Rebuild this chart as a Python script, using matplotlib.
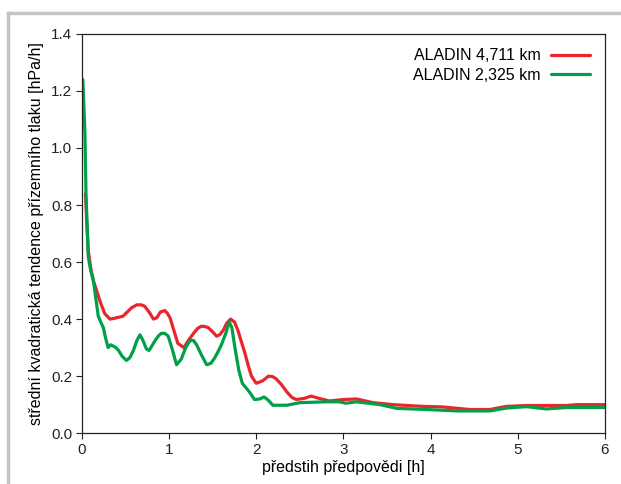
import numpy as np
import matplotlib.pyplot as plt
from matplotlib.lines import Line2D

plt.rcParams['font.family'] = ['Liberation Sans', 'DejaVu Sans']

# forecast lead time [h] and values [hPa/h]
t_red = [0.04, 0.055, 0.072, 0.10, 0.13, 0.168, 0.21, 0.26, 0.32, 0.36, 0.40, 0.47, 0.52, 0.57, 0.63,
         0.68, 0.72, 0.77, 0.82, 0.86, 0.90, 0.95, 0.98, 1.01, 1.05, 1.10, 1.17, 1.22, 1.28, 1.33,
         1.37, 1.41, 1.45, 1.50, 1.545, 1.58, 1.62, 1.66, 1.705, 1.75, 1.79, 1.83, 1.87, 1.91, 1.945,
         2.00, 2.07, 2.14, 2.19, 2.23, 2.29, 2.35, 2.41, 2.46, 2.55, 2.63, 2.72, 2.84, 3.0, 3.15, 3.34,
         3.57, 3.91, 4.14, 4.45, 4.68, 4.87, 5.1, 5.37, 5.56, 5.67, 6.0]
v_red = [0.84, 0.74, 0.64, 0.58, 0.535, 0.50, 0.46, 0.42, 0.40, 0.402, 0.405, 0.41, 0.425, 0.44, 0.45,
         0.45, 0.445, 0.425, 0.40, 0.405, 0.425, 0.43, 0.42, 0.405, 0.365, 0.315, 0.30, 0.325, 0.35, 0.368,
         0.375, 0.374, 0.37, 0.355, 0.34, 0.345, 0.36, 0.385, 0.40, 0.39, 0.36, 0.32, 0.28, 0.235, 0.20,
         0.175, 0.183, 0.20, 0.198, 0.19, 0.17, 0.145, 0.125, 0.118, 0.122, 0.13, 0.122, 0.113, 0.118, 0.12,
         0.107, 0.10, 0.094, 0.092, 0.083, 0.083, 0.094, 0.097, 0.097, 0.097, 0.10, 0.10]

t_green = [0.0, 0.01, 0.034, 0.046, 0.072, 0.10, 0.13, 0.16, 0.187, 0.215, 0.245, 0.27, 0.30, 0.33,
           0.36, 0.39, 0.42, 0.46, 0.51, 0.55, 0.59, 0.63, 0.665, 0.70, 0.74, 0.77, 0.80, 0.84, 0.88,
           0.91, 0.95, 0.99, 1.04, 1.085, 1.14, 1.19, 1.24, 1.28, 1.315, 1.37, 1.43, 1.48, 1.525,
           1.56, 1.60, 1.65, 1.69, 1.72, 1.755, 1.80, 1.84, 1.88, 1.92, 1.98, 2.04, 2.09, 2.14,
           2.19, 2.35, 2.50, 2.80, 2.95, 3.03, 3.15, 3.42, 3.61, 3.95, 4.30, 4.68, 4.87, 5.1, 5.33,
           5.56, 6.0]
v_green = [1.24, 1.24, 1.05, 0.84, 0.62, 0.57, 0.537, 0.47, 0.41, 0.39, 0.37, 0.335, 0.30, 0.31,
           0.305, 0.30, 0.29, 0.27, 0.255, 0.265, 0.29, 0.325, 0.345, 0.325, 0.295, 0.29, 0.305, 0.325, 0.342,
           0.35, 0.35, 0.34, 0.29, 0.24, 0.26, 0.30, 0.325, 0.325, 0.31, 0.275, 0.24, 0.245, 0.265,
           0.285, 0.31, 0.35, 0.39, 0.37, 0.30, 0.22, 0.175, 0.16, 0.145, 0.118, 0.12, 0.127, 0.115,
           0.098, 0.098, 0.107, 0.11, 0.11, 0.105, 0.11, 0.10, 0.087, 0.083, 0.078, 0.078, 0.088, 0.093, 0.085,
           0.09, 0.09]

labels = ['ALADIN 4,711 km', 'ALADIN 2,325 km']
x_ticks = [0, 1, 2, 3, 4, 5, 6]
y_ticks = [0.0, 0.2, 0.4, 0.6, 0.8, 1.0, 1.2, 1.4]

fig = plt.figure(figsize=(6.21, 4.84), dpi=100)
ax = fig.add_axes([0.132, 0.105, 0.842, 0.825])

line_kw = dict(lw=2.3, solid_joinstyle='round', solid_capstyle='round')
ax.plot(t_red, v_red, color='#e8262b', label=labels[0], **line_kw)
ax.plot(t_green, v_green, color='#00a04a', label=labels[1], **line_kw)

ax.set_xlim(0, 6)
ax.set_ylim(0, 1.4)
ax.set_xticks(x_ticks)
ax.set_yticks(y_ticks)
ax.set_yticklabels([f'{v:.1f}' for v in y_ticks])
ax.tick_params(direction='out', length=4, width=0.8, labelsize=11, colors='#222222', pad=3)
for s in ax.spines.values():
    s.set_linewidth(0.9)
    s.set_color('#222222')

ax.set_xlabel('předstih předpovědi [h]', fontsize=11.5, labelpad=2)
ax.set_ylabel('střední kvadratická tendence přízemního tlaku [hPa/h]', fontsize=11.5, labelpad=5)

ax.legend(loc='upper right', frameon=False, markerfirst=False, fontsize=11.5,
          handlelength=2.5, borderaxespad=0.5, labelspacing=0.3, handletextpad=0.6)

# grey frame of the figure panel
fig.add_artist(Line2D([8 / 621, 1.0], [1 - 13 / 484, 1 - 13 / 484], color='#c4c4c4', lw=2.5,
                      transform=fig.transFigure))
fig.add_artist(Line2D([8 / 621, 8 / 621], [0.0, 1 - 13 / 484], color='#c4c4c4', lw=2.5,
                      transform=fig.transFigure))

fig.savefig('out.png', dpi=100)
